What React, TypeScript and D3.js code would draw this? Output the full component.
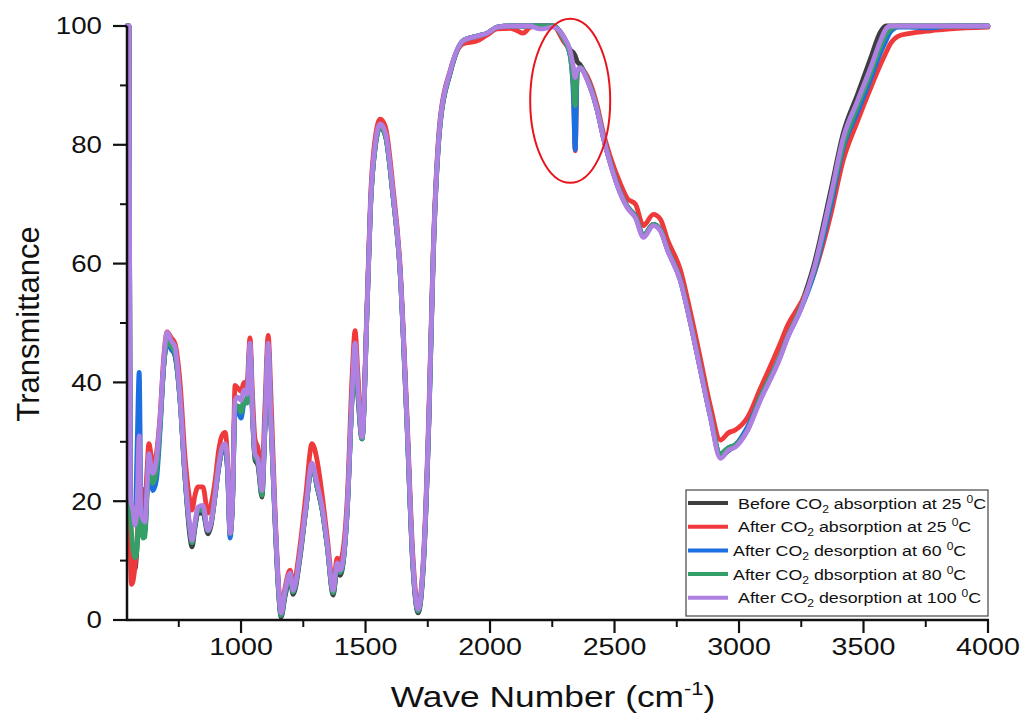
import React from "react";
import * as d3 from "d3";

// ---- data ----
const waveNumbers = [
  542, 550, 555, 560, 566, 574, 582, 591, 598, 606,
  614, 622, 630, 638, 646, 660, 675, 690, 703, 720,
  735, 755, 775, 795, 803, 815, 827, 847, 867, 880,
  896, 910, 924, 936, 946, 956, 966, 976, 988, 1000,
  1012, 1024, 1036, 1046, 1056, 1068, 1084, 1096, 1109, 1120,
  1137, 1150, 1161, 1177, 1197, 1209, 1237, 1260, 1285, 1305,
  1326, 1346, 1370, 1386, 1398, 1426, 1446, 1458, 1470, 1486,
  1506, 1520, 1540, 1559, 1580, 1610, 1639, 1665, 1690, 1711,
  1735, 1755, 1772, 1800, 1840, 1892, 1949, 1989, 2029, 2080,
  2109, 2133, 2162, 2200, 2254, 2294, 2322, 2335, 2342, 2350,
  2362, 2391, 2431, 2455, 2483, 2523, 2551, 2584, 2616, 2656,
  2684, 2713, 2764, 2805, 2845, 2885, 2925, 2957, 2985, 3034,
  3086, 3166, 3194, 3250, 3299, 3367, 3419, 3476, 3528, 3568,
  3590, 3608, 3640, 3680, 3769, 3850, 4000,
];

const beforeAbs25 = [
  100, 100, 17, 12, 9, 8.5, 12, 18, 16.5, 15,
  15, 21.5, 27, 25, 23, 25.5, 33, 43, 47, 46,
  44.5, 37, 24, 14, 12.3, 15.5, 18, 18, 14.5, 16,
  21, 25.5, 28.5, 29, 25, 14.5, 20, 36, 36, 34.5,
  37, 37, 46, 34.5, 27, 26, 20.7, 32, 46, 33.5,
  16, 5, 0.5, 4, 7, 4.3, 10.5, 18.5, 26, 22.5,
  18.5, 12.5, 4.2, 8.5, 7.5, 18, 37.5, 45.5, 37.5, 30.5,
  52, 69.5, 80, 83, 81.5, 71.5, 58.5, 34.5, 9, 1.2,
  11, 34, 61, 83.5, 92, 97.5, 98.3, 98.8, 99.8, 100,
  100, 100, 100, 100, 100, 98.3, 96, 95.5, 95, 94,
  93.5, 91, 85.8, 81.3, 77, 72, 69.6, 68, 64.7, 66.6,
  65.7, 62.4, 57.3, 50.1, 42.2, 34.3, 27.5, 28.5, 29.3, 32,
  37.5, 44.5, 47.8, 53.2, 59.5, 72, 82, 88.5, 94.5, 99,
  100, 100, 100, 100, 100, 100, 100,
];

const afterAbs25 = [
  100, 100, 13, 6, 6.5, 9, 13, 19, 20, 22,
  19, 25, 29.7, 28, 25.5, 28, 34.5, 44.5, 48.5, 47.5,
  46.5, 40, 27.5, 20, 18.5, 21, 22.4, 22.4, 18, 19.5,
  23.5, 28.5, 31.1, 31.6, 27, 15, 21, 39.5, 39, 38.5,
  40, 40, 47.5, 38, 30.5, 29, 24.5, 36, 47.9, 38,
  18, 6.5, 1.5, 5.5, 8.4, 6, 12.5, 21, 29.7, 27,
  21, 14, 6, 10.4, 10, 20, 41, 48.7, 41, 31.5,
  53, 71, 81.5, 84.3, 83, 73, 59.5, 36, 11, 2.2,
  12.5, 36, 62.5, 84.5, 92.5, 97, 97.5, 98.5, 99.5, 99.6,
  99.2, 98.8, 99.8, 100, 100, 97.5, 95.5, 90, 79, 92,
  93, 91.5, 86.5, 82, 78, 73.5, 71, 70, 66.4, 68.3,
  67.5, 64, 59, 51.8, 44, 36, 30.3, 31.5, 32, 34.1,
  39, 46.6, 49.5, 53.5, 58, 68, 77.5, 84, 89.5, 93.5,
  95.5, 97, 98.3, 98.7, 99.2, 99.5, 99.8,
];

const afterDes60 = [
  100, 100, 19, 17, 17, 16, 28, 41.7, 20, 15,
  15, 21.5, 27, 24, 21.8, 23.5, 32, 43, 46.5, 45.5,
  44.5, 37, 24, 15, 13, 16, 18.5, 18.5, 15, 16.5,
  21, 25.5, 28.5, 29, 25, 13.8, 20, 35.5, 35, 34,
  36.5, 37, 46, 34.5, 27.5, 26.5, 21.5, 32.5, 46, 33.5,
  16.5, 5.5, 0.8, 4.5, 7.5, 4.7, 11, 18.5, 26, 22.5,
  18.5, 12.5, 4.6, 9, 8, 18, 37.5, 45.5, 38, 30.5,
  52, 69.5, 80, 83, 81.5, 71.5, 58.5, 34.5, 9.5, 1.5,
  11.5, 34.5, 61.5, 83.8, 92.2, 97.5, 98.3, 98.8, 99.8, 100,
  100, 100, 100, 100, 100, 98, 95, 88, 79.2, 92,
  93, 91, 85.8, 81.3, 77, 72, 69.6, 68, 64.7, 66.6,
  65.7, 62.4, 57.3, 50.1, 42.2, 34.3, 28, 29, 29.5, 32.5,
  37.5, 44.5, 47.5, 52.5, 58, 69.5, 79.5, 85.5, 91, 95.5,
  97.5, 99, 99.8, 99.8, 99.7, 100, 100,
];

const afterDes80 = [
  100, 100, 19, 15, 12, 10.5, 12, 18, 16, 13.8,
  14, 20.5, 27, 25, 23, 25, 33, 43, 47, 46,
  45, 37, 24, 15, 13, 16, 18.5, 18.5, 15, 16.5,
  21, 26, 29, 29.5, 25.5, 14.5, 20, 36, 36, 35,
  37, 36.5, 46, 35, 27.5, 26.5, 21, 32.5, 46, 33.5,
  16.5, 5.5, 0.8, 4.5, 7.5, 4.7, 11, 18.5, 26, 22.5,
  18.5, 12.5, 4.6, 9, 8, 18, 37.5, 45.5, 38, 30.5,
  52, 69.5, 80, 83, 81.5, 71.5, 58.5, 34.5, 9.5, 1.5,
  11.5, 34.5, 61.5, 83.8, 92.2, 97.5, 98.3, 98.8, 99.8, 100,
  100, 100, 100, 100, 100, 98, 95, 90, 86.6, 92,
  93, 91, 85.8, 81.3, 77, 72, 69.6, 68, 64.7, 66.6,
  65.7, 62.4, 57.3, 50.1, 42.2, 34.3, 28, 29, 29.5, 32,
  37.5, 44.5, 47.6, 52.8, 58.5, 70.5, 80, 86.5, 92, 96.5,
  98.5, 99.5, 100, 100, 100, 100, 100,
];

const afterDes100 = [
  100, 100, 21, 19.5, 18.5, 16, 19, 31, 18, 17,
  16.5, 22, 28, 26, 24.7, 27, 34, 44, 48.4, 47,
  45.9, 37.5, 24.7, 15.5, 13.4, 16.5, 19, 19.3, 15.1, 16.5,
  21.3, 26, 29.1, 29.7, 26, 14.6, 20.5, 37, 37.5, 37,
  38.7, 38, 46.6, 35.3, 28, 27, 21.8, 33, 46.6, 34,
  17, 6, 1.2, 5, 7.9, 5, 11.3, 19, 26.4, 23,
  19, 12.9, 5, 9.6, 8.4, 18.5, 38, 46.6, 39, 30.8,
  52, 70, 80.5, 83.5, 82, 72, 58.8, 35, 10, 1.8,
  12, 35, 61.7, 84, 92.4, 97.5, 98.3, 98.8, 99.8, 100,
  100, 100, 100, 99.5, 99.8, 98.3, 95.8, 93, 91.3, 92.5,
  92.9, 90.8, 85.7, 81.2, 76.8, 71.8, 69.4, 67.7, 64.4, 66.4,
  65.5, 62.2, 57.1, 49.9, 42, 34.1, 27.2, 28.6, 29.1, 31.9,
  37, 44.2, 47.4, 52.5, 58.8, 71.1, 81.2, 87.4, 92.9, 97.5,
  99.5, 100, 100, 100, 100, 100, 100,
];

const seriesNames = ["Before", "After", "After", "After", "After"];
const seriesProcess = ["absorption", "absorption", "desorption", "dbsorption", "desorption"];
const seriesTemps = ["25", "25", "60", "80", "100"];
const seriesColors = ["#3e3e3e", "#f0393b", "#1c6fe0", "#34a068", "#ad80e2"];

const xTickValues = [1000, 1500, 2000, 2500, 3000, 3500, 4000];
const xMinorTicks = [750, 1250, 1750, 2250, 2750, 3250, 3750];
const yTickValues = [0, 20, 40, 60, 80, 100];
const yMinorTicks = [10, 30, 50, 70, 90];

const xDomain = [542, 4000];
const yDomain = [0, 100];

export default function App() {
  const W = 1023, H = 715;
  const x = d3.scaleLinear().domain(xDomain).range([127, 988]);
  const y = d3.scaleLinear().domain(yDomain).range([620, 26]);
  const series = [beforeAbs25, afterAbs25, afterDes60, afterDes80, afterDes100];

  const line = d3
    .line<number>()
    .x((_, i) => x(waveNumbers[i]))
    .y((d) => y(d))
    .curve(d3.curveMonotoneX);

  const axisColor = "#111";
  const font = "'Liberation Sans', Arial, sans-serif";

  const legX = 686, legY = 490, legW = 302, legH = 126;
  const rowH = 23.7;
  const textStarts = [52, 52, 47, 47, 52];

  return (
    <svg
      width={W}
      height={H}
      style={{ position: "absolute", left: 0, top: 0, background: "#fff" }}
      fontFamily={font}
    >
      <rect x={0} y={0} width={W} height={H} fill="#fff" />
      {/* series */}
      <g fill="none" strokeWidth={4.8} strokeLinejoin="round" strokeLinecap="round">
        {series.map((s, i) => (
          <path key={i} d={line(s) || ""} stroke={seriesColors[i]} />
        ))}
      </g>

      {/* red annotation ellipse */}
      <ellipse cx={x(2322)} cy={y(87.4)} rx={40} ry={82} fill="none" stroke="#e8141c" strokeWidth={2} />

      {/* axes */}
      <line x1={127} x2={127} y1={y(100)} y2={y(0) + 1} stroke={axisColor} strokeWidth={2.5} />
      <line x1={126} x2={x(4000) + 1} y1={620} y2={620} stroke={axisColor} strokeWidth={2.5} />
      {yTickValues.map((v) => (
        <g key={"yt" + v}>
          <line x1={113} x2={127} y1={y(v)} y2={y(v)} stroke={axisColor} strokeWidth={2.2} />
          <g transform={`translate(102,${y(v)}) scale(1.13,1)`}>
            <text textAnchor="end" dominantBaseline="central" fontSize={24.5} fill="#111">
              {v}
            </text>
          </g>
        </g>
      ))}
      {yMinorTicks.map((v) => (
        <line key={"ym" + v} x1={120} x2={127} y1={y(v)} y2={y(v)} stroke={axisColor} strokeWidth={2} />
      ))}
      {xTickValues.map((v) => (
        <g key={"xt" + v}>
          <line x1={x(v)} x2={x(v)} y1={620} y2={633} stroke={axisColor} strokeWidth={2.2} />
          <g transform={`translate(${x(v)},647) scale(1.17,1)`}>
            <text textAnchor="middle" dominantBaseline="central" fontSize={24.5} fill="#111">
              {v}
            </text>
          </g>
        </g>
      ))}
      {xMinorTicks.map((v) => (
        <line key={"xm" + v} x1={x(v)} x2={x(v)} y1={620} y2={627} stroke={axisColor} strokeWidth={2} />
      ))}

      {/* axis titles */}
      <g transform="translate(553,707) scale(1.22,1)">
        <text textAnchor="middle" fontSize={29} fill="#111">
          Wave Number (cm
          <tspan fontSize={18} dy={-12}>-1</tspan>
          <tspan dy={12}>)</tspan>
        </text>
      </g>
      <text
        transform="translate(39,324) rotate(-90)"
        textAnchor="middle"
        fontSize={31}
        fill="#111"
      >
        Transmittance
      </text>

      {/* legend */}
      <rect x={legX} y={legY} width={legW} height={legH} fill="#fff" stroke="#444" strokeWidth={1.2} />
      {seriesColors.map((c, i) => {
        const cy = legY + 13 + i * rowH;
        return (
          <g key={"lg" + i}>
            <line x1={legX + 2} x2={legX + 42} y1={cy} y2={cy} stroke={c} strokeWidth={4} />
            <g transform={`translate(${legX + textStarts[i]},${cy + 5.5}) scale(1.15,1)`}>
              <text fontSize={15.5} fill="#111">
                {seriesNames[i]} CO
                <tspan fontSize={10.5} dy={4}>2</tspan>
                <tspan dy={-4}>{` ${seriesProcess[i]} at ${seriesTemps[i]} `}</tspan>
                <tspan fontSize={10.5} dy={-6}>0</tspan>
                <tspan dy={6}>C</tspan>
              </text>
            </g>
          </g>
        );
      })}
    </svg>
  );
}
